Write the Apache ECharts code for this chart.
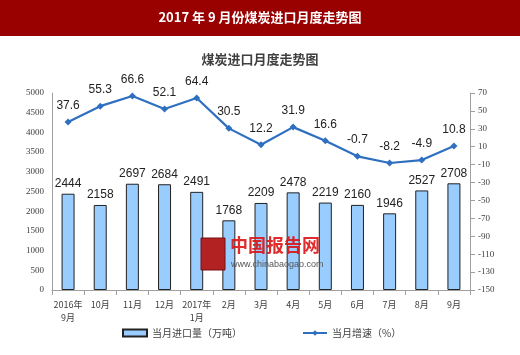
<!DOCTYPE html>
<html><head><meta charset="utf-8">
<script src="https://cdn.jsdelivr.net/npm/echarts@6/dist/echarts.min.js"></script>
<style>html,body{margin:0;padding:0;background:#fff}#c{width:520px;height:355px}</style>
</head><body><div id="c"></div>
<script>
const categories = ['2016年\n9月','10月','11月','12月','2017年\n1月','2月','3月','4月','5月','6月','7月','8月','9月'];
const importVolume = [2444,2158,2697,2684,2491,1768,2209,2478,2219,2160,1946,2527,2708];
const growthRate = [37.6,55.3,66.6,52.1,64.4,30.5,12.2,31.9,16.6,-0.7,-8.2,-4.9,10.8];
const leftTicks = {min:0,max:5000,interval:500};
const rightTicks = {min:-150,max:70,interval:20};

const chart = echarts.init(document.getElementById('c'));
const font = 'Liberation Sans, Noto Sans CJK SC, sans-serif';
chart.setOption({
  animation:false,
  graphic:[
    {type:'rect',z:100,shape:{x:0,y:0,width:520,height:36},style:{fill:'#990000'}},
    {type:'text',z:101,left:'center',top:11,style:{text:'2017 年 9 月份煤炭进口月度走势图',fill:'#fff',font:'bold 13px Noto Sans CJK SC, serif'}},
    {type:'rect',z:100,shape:{x:201,y:238,width:24,height:32},style:{fill:'#b22222',stroke:'#7a1010'}},
    {type:'text',z:100,x:230,y:236,style:{text:'中国报告网',fill:'rgba(220,20,20,0.9)',font:'bold 18px Noto Sans CJK SC'}},
    {type:'text',z:100,x:231,y:260,style:{text:'www.chinabaogao.com',fill:'#555',font:'9px Liberation Sans'}}
  ],
  title:{text:'煤炭进口月度走势图',left:'center',top:48,textStyle:{fontSize:13,fontWeight:'bold',color:'#404040',fontFamily:'Noto Sans CJK SC'}},
  legend:{bottom:12,left:117,itemGap:60,textStyle:{fontSize:10,color:'#404040',fontFamily:'Noto Sans CJK SC'},
    data:[{name:'当月进口量（万吨）',icon:'rect'},{name:'当月增速（%）'}],itemWidth:24,itemHeight:7},
  grid:{left:52,right:50,top:93,bottom:65},
  xAxis:{type:'category',data:categories,
    axisLine:{lineStyle:{color:'#a0a0a0'}},
    axisTick:{show:true,alignWithLabel:false,lineStyle:{color:'#a0a0a0'}},
    axisLabel:{fontSize:9,color:'#404040',fontFamily:'Noto Sans CJK SC',lineHeight:13,interval:0}},
  yAxis:[
    {type:'value',min:leftTicks.min,max:leftTicks.max,interval:leftTicks.interval,
     axisLine:{show:true,lineStyle:{color:'#a0a0a0'}},axisTick:{show:false},splitLine:{show:false},
     axisLabel:{fontSize:9,color:'#404040',fontFamily:'Liberation Serif',formatter:v=>String(v)}},
    {type:'value',min:rightTicks.min,max:rightTicks.max,interval:rightTicks.interval,position:'right',
     axisLine:{show:true,lineStyle:{color:'#a0a0a0'}},axisTick:{show:true,lineStyle:{color:'#a0a0a0'}},splitLine:{show:false},
     axisLabel:{fontSize:9,color:'#404040',fontFamily:'Liberation Serif',formatter:v=>String(v)}}
  ],
  series:[
    {name:'当月进口量（万吨）',type:'bar',data:importVolume,barWidth:13,
     itemStyle:{color:'#99ccff',borderColor:'#222',borderWidth:1},
     label:{show:true,position:'top',fontSize:12,color:'#222',fontFamily:font,distance:4}},
    {name:'当月增速（%）',type:'line',yAxisIndex:1,data:growthRate,
     symbol:'diamond',symbolSize:7,
     lineStyle:{color:'#2e6fc0',width:2.2},itemStyle:{color:'#2e6fc0'},
     label:{show:true,position:'top',fontSize:12,color:'#222',fontFamily:font,distance:7}}
  ]
});
</script></body></html>
